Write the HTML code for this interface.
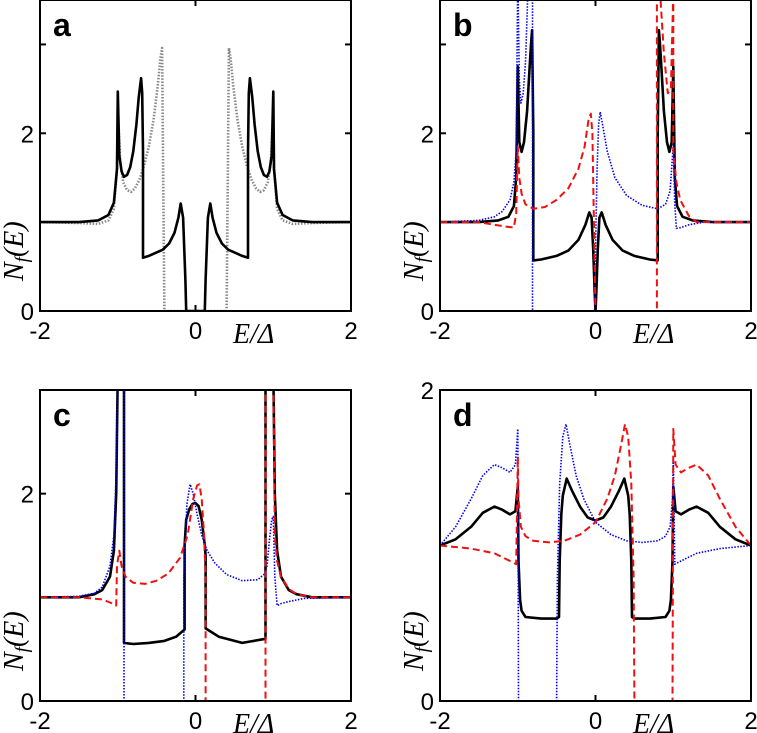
<!DOCTYPE html>
<html><head><meta charset="utf-8"><style>
html,body{margin:0;padding:0;background:#fff;}
svg{display:block;}
.tk{font-family:"Liberation Sans",sans-serif;font-size:24px;fill:#000;}
.pl{font-family:"Liberation Sans",sans-serif;font-size:32px;font-weight:bold;fill:#000;}
.ax{font-family:"Liberation Serif",serif;font-style:italic;font-size:28px;fill:#000;}
</style></head><body>
<svg id="fig" width="757" height="733" viewBox="0 0 757 733"></svg>
<script>
// ---- data (E/Δ, N_f(E)) ----
const aBlackE=[-2,-1.5,-1.25,-1.12,-1.05,-1.01,-1.0,-0.98,-0.95,-0.92,-0.88,-0.84,-0.8,-0.76,-0.73,-0.70,-0.685,-0.675,-0.675,-0.6,-0.5,-0.42,-0.34,-0.27,-0.22,-0.19,-0.16,-0.13,-0.12,0.12,0.13,0.16,0.19,0.22,0.27,0.34,0.42,0.5,0.6,0.675,0.675,0.685,0.70,0.73,0.76,0.8,0.84,0.88,0.92,0.95,0.98,1.0,1.01,1.05,1.12,1.25,1.5,2];
const aBlackN=[1,1,1.02,1.08,1.22,1.6,2.47,1.75,1.57,1.51,1.53,1.62,1.8,2.1,2.4,2.62,2.45,1.8,0.6,0.62,0.66,0.69,0.76,0.88,1.05,1.21,1.05,0.35,0,0,0.35,1.05,1.21,1.05,0.88,0.76,0.69,0.66,0.62,0.6,1.8,2.45,2.62,2.4,2.1,1.8,1.62,1.53,1.51,1.57,1.75,2.47,1.6,1.22,1.08,1.02,1,1];
const aGrayE=[-2,-1.5,-1.25,-1.12,-1.05,-1.01,-1.0,-0.97,-0.93,-0.88,-0.83,-0.78,-0.72,-0.66,-0.6,-0.54,-0.49,-0.45,-0.43,-0.415,-0.40,0.40,0.415,0.43,0.45,0.49,0.54,0.6,0.66,0.72,0.78,0.83,0.88,0.93,0.97,1.0,1.01,1.05,1.12,1.25,1.5,2];
const aGrayN=[1,0.99,0.98,1.02,1.15,1.6,2.3,1.7,1.45,1.36,1.34,1.38,1.48,1.64,1.85,2.15,2.5,2.85,2.96,1.5,0,0,1.5,2.96,2.85,2.5,2.15,1.85,1.64,1.48,1.38,1.34,1.36,1.45,1.7,2.3,1.6,1.15,1.02,0.98,0.99,1];

const bBlackE=[-2,-1.5,-1.25,-1.12,-1.05,-1.02,-1.0,-0.98,-0.95,-0.92,-0.88,-0.85,-0.83,-0.815,-0.80,-0.80,-0.7,-0.5,-0.35,-0.22,-0.13,-0.08,-0.05,-0.03,-0.01,0,0.01,0.03,0.05,0.08,0.13,0.22,0.35,0.5,0.7,0.80,0.80,0.815,0.83,0.85,0.88,0.92,0.95,0.98,1.0,1.02,1.05,1.12,1.25,1.5,2];
const bBlackN=[1,1,1.02,1.06,1.18,1.5,2.75,1.9,1.79,1.9,2.25,2.7,3.0,3.16,2.0,0.57,0.58,0.62,0.68,0.8,0.97,1.11,1.05,0.7,0.2,0,0.2,0.7,1.05,1.11,0.97,0.8,0.68,0.62,0.58,0.57,2.0,3.16,3.0,2.7,2.25,1.9,1.79,1.9,2.75,1.5,1.18,1.06,1.02,1,1];
const bRedE=[-2,-1.5,-1.3,-1.15,-1.05,-1.02,-1.0,-0.98,-0.95,-0.9,-0.8,-0.65,-0.5,-0.35,-0.22,-0.14,-0.09,-0.06,-0.04,-0.02,0,0.79,0.79,0.83,0.88,0.93,0.97,1.0,1.0,1.04,1.09,1.2,1.3,1.5,2];
const bRedN=[1,1,0.97,0.95,0.94,1.1,1.85,1.5,1.32,1.2,1.15,1.17,1.25,1.38,1.6,1.85,2.15,2.22,2.0,1.0,0,0,3.6,3.6,2.9,2.45,2.5,3.6,1.8,1.45,1.25,1.07,1.0,1,1];
const bBlueE=[-2,-1.5,-1.3,-1.2,-1.1,-1.05,-1.02,-1.0,-0.98,-0.96,-0.93,-0.9,-0.87,-0.84,-0.81,-0.81,-0.01,0,0.02,0.04,0.06,0.09,0.15,0.25,0.4,0.6,0.8,0.9,0.96,1.0,1.02,1.04,1.1,1.2,1.4,2];
const bBlueN=[1,1.02,1.06,1.12,1.25,1.45,1.8,3.8,2.6,2.34,2.45,2.8,3.6,3.8,3.8,0,0,0.7,1.6,2.1,2.24,2.1,1.8,1.5,1.3,1.19,1.15,1.2,1.35,1.87,1.2,0.93,0.94,0.97,1.0,1];

const cBlackE=[-2,-1.5,-1.3,-1.2,-1.1,-1.05,-1.02,-1.0,-0.92,-0.92,-0.8,-0.6,-0.4,-0.25,-0.14,-0.14,-0.12,-0.08,-0.04,0,0.04,0.08,0.12,0.13,0.13,0.3,0.6,0.9,0.9,1.0,1.02,1.05,1.1,1.2,1.3,1.5,2];
const cBlackN=[1,1,1.03,1.07,1.2,1.45,2.0,3.2,3.2,0.56,0.55,0.56,0.58,0.62,0.69,1.5,1.75,1.85,1.9,1.91,1.88,1.75,1.5,1.4,0.7,0.62,0.56,0.6,3.2,3.2,2.0,1.45,1.2,1.07,1.03,1,1];
const cRedE=[-2,-1.5,-1.2,-1.1,-1.02,-1.01,-0.98,-0.95,-0.9,-0.8,-0.65,-0.5,-0.35,-0.2,-0.1,-0.03,0.02,0.05,0.08,0.11,0.13,0.13,0.9,0.9,1.0,1.02,1.05,1.1,1.2,1.3,1.5,2];
const cRedN=[1,1,0.98,0.95,0.92,1.3,1.45,1.3,1.2,1.14,1.13,1.16,1.23,1.38,1.6,1.95,2.08,2.09,1.95,1.6,1.2,0,0,3.2,3.2,1.6,1.35,1.2,1.08,1.03,1,1];
const cBlueE=[-2,-1.5,-1.3,-1.2,-1.1,-1.05,-1.02,-1.0,-0.92,-0.92,-0.15,-0.15,-0.11,-0.07,-0.03,0.02,0.08,0.15,0.25,0.4,0.6,0.8,0.88,0.92,0.95,0.98,1.0,1.02,1.05,1.1,1.2,1.4,2];
const cBlueN=[1,1.01,1.04,1.1,1.3,1.6,2.2,3.2,3.2,0,0,1.2,1.9,2.09,2.0,1.8,1.6,1.45,1.33,1.22,1.16,1.17,1.22,1.3,1.55,1.75,1.78,1.2,0.92,0.94,0.96,0.99,1];

const dBlackE=[-2,-1.8,-1.6,-1.45,-1.3,-1.2,-1.1,-1.03,-1.0,-0.99,-0.97,-0.95,-0.9,-0.7,-0.5,-0.47,-0.46,-0.44,-0.42,-0.37,-0.3,-0.2,-0.1,0,0.1,0.2,0.3,0.37,0.42,0.44,0.46,0.47,0.5,0.7,0.9,0.95,0.97,0.99,1.0,1.03,1.1,1.2,1.3,1.45,1.6,1.8,2];
const dBlackN=[1.0,1.04,1.12,1.21,1.25,1.23,1.2,1.22,1.38,0.9,0.65,0.58,0.54,0.53,0.53,0.54,0.9,1.2,1.32,1.43,1.35,1.25,1.18,1.16,1.18,1.25,1.35,1.43,1.32,1.2,0.9,0.54,0.53,0.53,0.54,0.58,0.65,0.9,1.38,1.22,1.2,1.23,1.25,1.21,1.12,1.04,1.0];
const dBlueE=[-2,-1.8,-1.6,-1.45,-1.3,-1.2,-1.1,-1.03,-1.0,-0.99,-0.5,-0.49,-0.46,-0.42,-0.38,-0.33,-0.25,-0.15,0,0.2,0.4,0.6,0.8,0.9,0.96,0.99,1.0,1.02,1.1,1.3,1.6,2];
const dBlueN=[1.0,1.12,1.3,1.45,1.52,1.5,1.47,1.52,1.75,0,0,0.8,1.4,1.7,1.78,1.65,1.45,1.3,1.15,1.07,1.03,1.02,1.03,1.06,1.12,1.3,1.57,0.88,0.9,0.95,0.98,1.0];
const dRedE=[-2,-1.6,-1.3,-1.1,-1.02,-1.0,-0.99,-0.96,-0.9,-0.8,-0.6,-0.4,-0.2,0,0.15,0.25,0.33,0.38,0.42,0.46,0.49,0.5,0.99,1.0,1.03,1.1,1.2,1.3,1.45,1.6,1.8,2];
const dRedN=[1.0,0.98,0.95,0.9,0.88,1.57,1.3,1.12,1.06,1.03,1.02,1.03,1.07,1.15,1.3,1.45,1.65,1.78,1.7,1.4,0.8,0,0,1.75,1.52,1.47,1.5,1.52,1.45,1.3,1.12,1.0];

const xTicks=["-2","0","2"];
const xTickVals=[-2,0,2];

const NS="http://www.w3.org/2000/svg";
const svg=document.getElementById('fig');
function mk(tag,attrs,parent){const e=document.createElementNS(NS,tag);for(const k in attrs)e.setAttribute(k,attrs[k]);(parent||svg).appendChild(e);return e;}

function panel(id,x0,y0,w,h,ymax,yTickVals,yLabelVals,series){
  const g=mk('g',{});
  
  
  const X=e=>x0+(e+2)/4*w;
  const Y=n=>y0+h-n/ymax*h;
  const cp=mk('clipPath',{id:'clip'+id},g);
  mk('rect',{x:x0,y:y0,width:w,height:h},cp);
  const sg=mk('g',{'clip-path':'url(#clip'+id+')'},g);
  series.forEach(s=>{
    const pts=s.E.map((e,i)=>X(e).toFixed(1)+','+Y(s.N[i]).toFixed(1)).join(' ');
    const pl=mk('polyline',{points:pts,fill:'none',stroke:s.c,'stroke-width':s.w,'stroke-dasharray':s.d||'none','stroke-linejoin':'round'},sg);
    
    
  });
  const fr=mk('rect',{x:x0,y:y0,width:w,height:h,fill:'none',stroke:'#000','stroke-width':2},g);
  
  
  const tl=6;
  mk('line',{x1:X(0),x2:X(0),y1:y0,y2:y0+tl,stroke:'#000','stroke-width':2},g);
  mk('line',{x1:X(0),x2:X(0),y1:y0+h,y2:y0+h-tl,stroke:'#000','stroke-width':2},g);
  yTickVals.forEach(v=>{
    mk('line',{x1:x0,x2:x0+tl,y1:Y(v),y2:Y(v),stroke:'#000','stroke-width':2},g);
    mk('line',{x1:x0+w,x2:x0+w-tl,y1:Y(v),y2:Y(v),stroke:'#000','stroke-width':2},g);
  });
  xTickVals.forEach((v,i)=>{
    const t=mk('text',{x:X(v),y:y0+h+28,'text-anchor':'middle',class:'tk'},g);
    t.textContent=xTicks[i];
    
    
  });
  yLabelVals.forEach(v=>{
    const t=mk('text',{x:x0-6,y:Y(v)+9,'text-anchor':'end',class:'tk'},g);
    t.textContent=String(v);
    
    
  });
  const pl=mk('text',{x:x0+13,y:y0+36,class:'pl'},g);
  pl.textContent=id;
  
  
  const xl=mk('text',{x:x0+193,y:y0+h+32,class:'ax'},g);
  xl.textContent='E/Δ';
  
  
  const yl=mk('text',{x:0,y:0,class:'ax',transform:'translate('+(x0-17)+','+(y0+h-30)+') rotate(-90)'},g);
  yl.innerHTML='N<tspan font-size="19" dy="5">f</tspan><tspan dy="-5">(E)</tspan>';
  
  
}
const BLK={c:'#000',w:2.6};
const GRY={c:'#888',w:2.6,d:'1.5,1.6'};
const RED={c:'#ee1111',w:2,d:'7,4'};
const BLU={c:'#0000ee',w:1.6,d:'1.5,1.5'};
panel('a',40,0,311,311,3.5,[2,3],[0,2],[
  Object.assign({E:aGrayE,N:aGrayN,name:'series-gray-dotted'},GRY),
  Object.assign({E:aBlackE,N:aBlackN,name:'series-black-solid'},BLK)]);
panel('b',440,0,311,311,3.5,[2,3],[0,2],[
  Object.assign({E:bBlackE,N:bBlackN,name:'series-black-solid'},BLK),
  Object.assign({E:bBlueE,N:bBlueN,name:'series-blue-dotted'},BLU),
  Object.assign({E:bRedE,N:bRedN,name:'series-red-dashed'},RED)]);
panel('c',40,390,311,311,3,[2],[0,2],[
  Object.assign({E:cBlackE,N:cBlackN,name:'series-black-solid'},BLK),
  Object.assign({E:cBlueE,N:cBlueN,name:'series-blue-dotted'},BLU),
  Object.assign({E:cRedE,N:cRedN,name:'series-red-dashed'},RED)]);
panel('d',440,390,311,311,2,[],[0,2],[
  Object.assign({E:dBlackE,N:dBlackN,name:'series-black-solid'},BLK),
  Object.assign({E:dBlueE,N:dBlueN,name:'series-blue-dotted'},BLU),
  Object.assign({E:dRedE,N:dRedN,name:'series-red-dashed'},RED)]);
</script>
</body></html>
